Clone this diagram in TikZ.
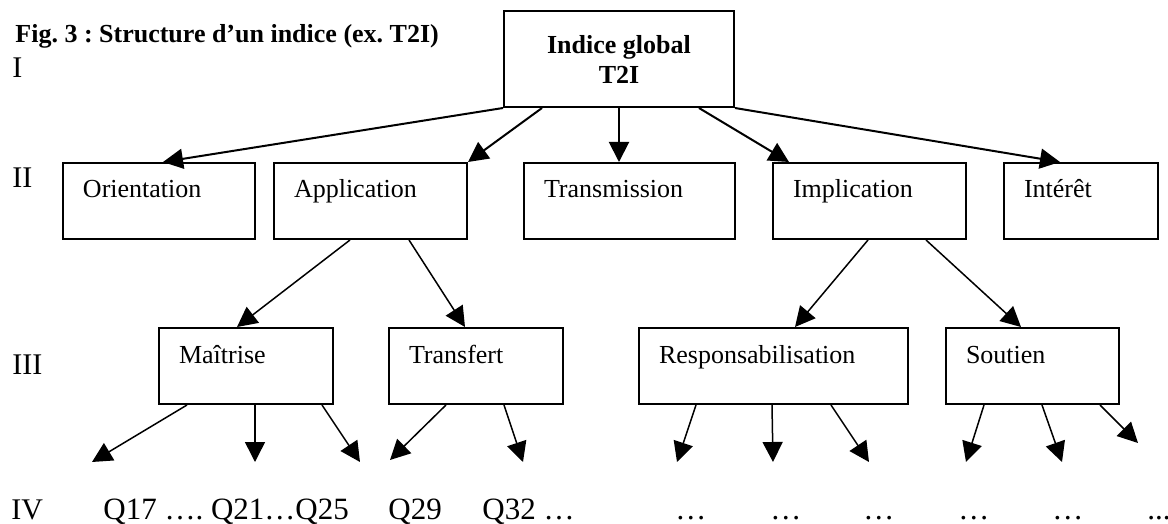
\documentclass[tikz,border=0pt]{standalone}
\usepackage{fontspec}
\setmainfont{Liberation Serif}
\usetikzlibrary{arrows.meta}
\newcommand\figfont{\fontsize{13pt}{15pt}\selectfont}
\newcommand\rowfont{\fontsize{15.5pt}{18pt}\selectfont}
\frenchspacing

\begin{document}
\begin{tikzpicture}[x=0.5pt,y=-0.5pt,>={Triangle[length=10pt,width=10pt]},font=\figfont,
  catbox/.style={draw,line width=1pt,anchor=north west,inner xsep=10pt,inner ysep=0pt,text height=17.5pt,text depth=20.5pt,align=left,text width=#1},
  link/.style={->,line width=1pt},
  sublink/.style={->,line width=0.75pt},
  lvl/.style={anchor=base west,inner sep=0pt,font=\fontsize{15pt}{18pt}\selectfont},
  qtext/.style={anchor=base west,inner sep=0pt,font=\rowfont}]
  \useasboundingbox (0,0) rectangle (1168,524);
  % title and levels
  \node[anchor=base west,inner sep=0pt,font=\figfont\bfseries] (title) at (15,43) {Fig. 3 : Structure d’un indice (ex. T2I)};
  \node[lvl] (lv1) at (12,78) {I};
  \node[lvl] (lv2) at (12,188) {II};
  \node[lvl] (lv3) at (12,374) {III};
  \node[lvl] (lv4) at (11,519) {IV};
  % level I
  \node[draw,line width=1pt,font=\figfont\bfseries,align=center,minimum width=115pt,minimum height=48pt,inner sep=0pt] (glob) at (619,59) {Indice global\\T2I};
  % level II
  \node[catbox=76pt] (orient) at (62,162) {Orientation};
  \node[catbox=76.5pt] (appl) at (273,162) {Application};
  \node[catbox=85.5pt] (trans) at (523,162) {Transmission};
  \node[catbox=76.5pt] (impl) at (772,162) {Implication};
  \node[catbox=57pt] (inter) at (1003,162) {Intérêt};
  % level III
  \node[catbox=67pt] (mait) at (158,327) {Maîtrise};
  \node[catbox=67pt] (transf) at (388,327) {Transfert};
  \node[catbox=114.5pt] (resp) at (638,327) {Responsabilisation};
  \node[catbox=66.5pt] (sout) at (945,327) {Soutien};
  % I -> II
  \draw[link] (glob.south west) -- ([xshift=50.5pt]orient.north west);
  \draw[link] ([xshift=19.5pt]glob.south west) -- (appl.north east);
  \draw[link] (glob.south) -- (glob.south |- trans.north);
  \draw[link] ([xshift=-18pt]glob.south east) -- ([xshift=8.5pt]impl.north west);
  \draw[link] (glob.south east) -- ([xshift=28.5pt]inter.north west);
  % II -> III
  \draw[sublink] ([xshift=38.5pt]appl.south west) -- ([xshift=39.5pt]mait.north west);
  \draw[sublink] ([xshift=68pt]appl.south west) -- ([xshift=38.5pt]transf.north west);
  \draw[sublink] ([xshift=48pt]impl.south west) -- ([xshift=78.5pt]resp.north west);
  \draw[sublink] ([xshift=77pt]impl.south west) -- ([xshift=38pt]sout.north west);
  % III -> IV
  \foreach \b/\s/\x/\y [count=\i] in {mait/14.5pt/92/462,mait/48.5pt/255/462,mait/82pt/360/462,transf/29pt/390/460,transf/58pt/523/462,resp/29pt/677/462,resp/67pt/773/462,resp/96.5pt/869/462,sout/19.5pt/966/462,sout/48.5pt/1062/462,sout/77.5pt/1138/443}{
    \coordinate (q\i) at (\x,\y);
    \draw[sublink] ([xshift=\s]\b.south west) -- (q\i);}
  % level IV
  \node[qtext] (qa) at (103,519) {Q17 …. Q21…Q25};
  \node[qtext] (qb) at (388,519) {Q29};
  \node[qtext] (qc) at (482,519) {Q32 …};
  \foreach \x [count=\i] in {675,770,863,958,1052}{\node[qtext] (dots\i) at (\x,519) {…};}
  \node[qtext] (dots6) at (1147,519) {...};
\end{tikzpicture}
\end{document}
